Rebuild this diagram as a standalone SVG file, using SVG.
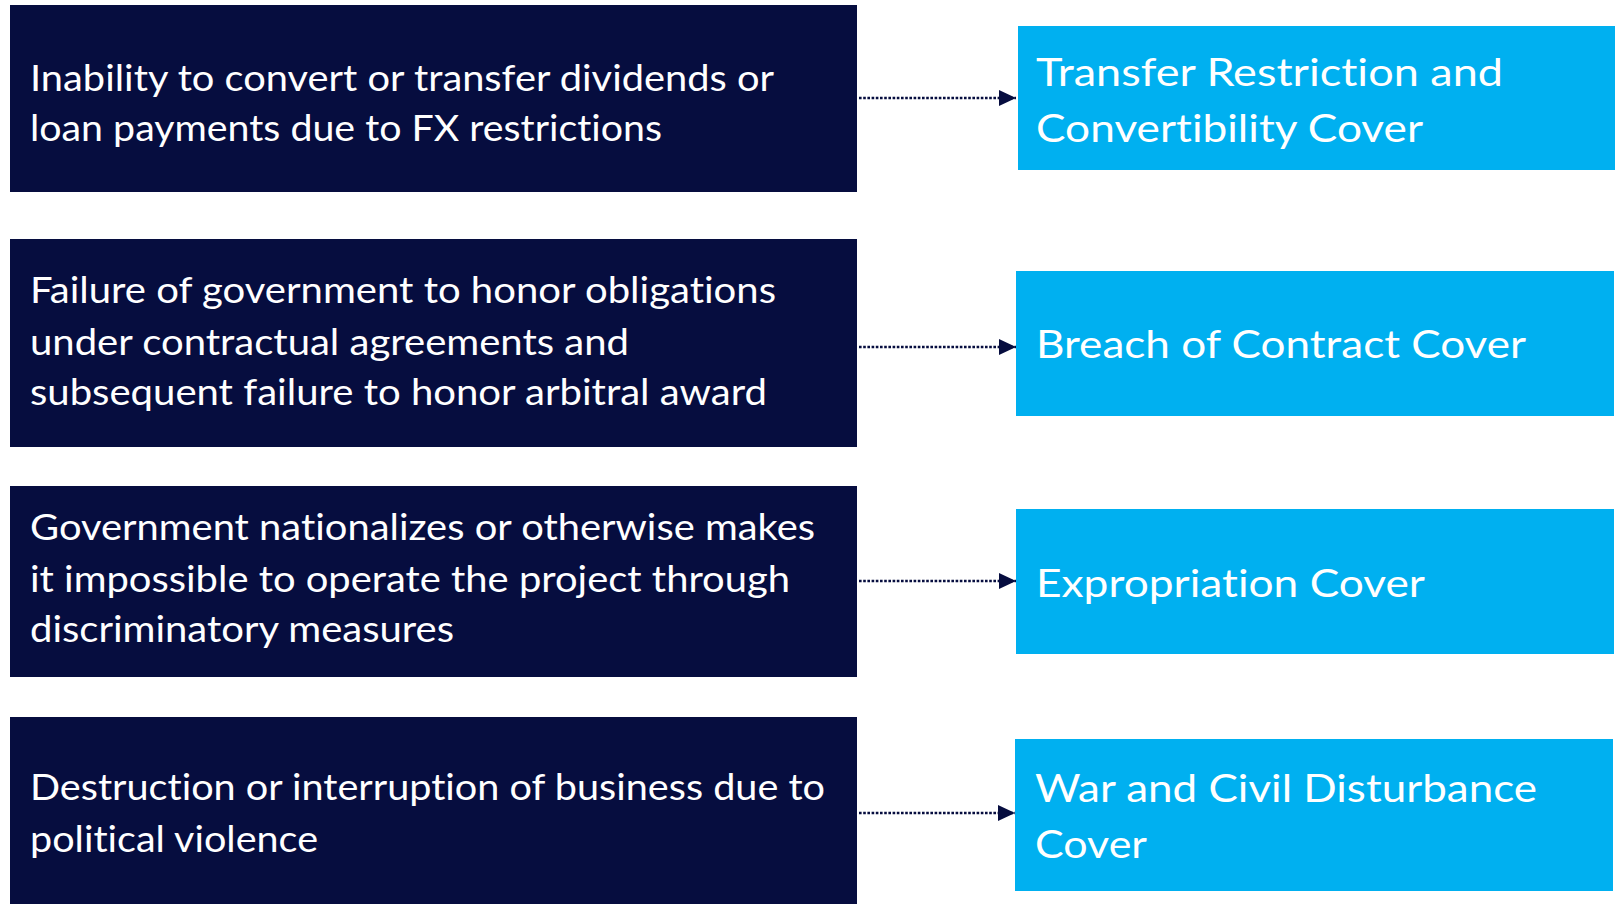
<svg xmlns="http://www.w3.org/2000/svg" width="1615" height="904" viewBox="0 0 1615 904">
  <style>
    .risk { fill: #060D3F; }
    .cover { fill: #00B0F0; }
    .rt { font-family: Lato, "Open Sans", "Liberation Sans", sans-serif; font-size: 36px; fill: #FFFFFF; font-variant-ligatures: none; }
    .ct { font-family: Lato, "Open Sans", "Liberation Sans", sans-serif; font-size: 39.5px; fill: #FFFFFF; font-variant-ligatures: none; }
    .conn { stroke: #060D3F; stroke-width: 2.6; stroke-dasharray: 2.6 1.6; fill: none; }
  </style>
  <defs>
    <marker id="arrow" markerUnits="userSpaceOnUse" markerWidth="17" markerHeight="17" refX="17" refY="8" orient="auto">
      <path d="M0,0 L17,8 L0,16 Z" fill="#060D3F"/>
    </marker>
  </defs>
  <rect width="1615" height="904" fill="#FFFFFF"/>

  <g id="risk-fx">
    <rect class="risk" x="10" y="5" width="847" height="187"/>
    <text class="rt" x="30" y="91" textLength="744" lengthAdjust="spacingAndGlyphs">Inability to convert or transfer dividends or</text>
    <text class="rt" x="30" y="141" textLength="632" lengthAdjust="spacingAndGlyphs">loan payments due to FX restrictions</text>
  </g>
  <g id="risk-contract">
    <rect class="risk" x="10" y="239" width="847" height="208"/>
    <text class="rt" x="30" y="303" textLength="746" lengthAdjust="spacingAndGlyphs">Failure of government to honor obligations</text>
    <text class="rt" x="30" y="355" textLength="599" lengthAdjust="spacingAndGlyphs">under contractual agreements and</text>
    <text class="rt" x="30" y="405" textLength="737" lengthAdjust="spacingAndGlyphs">subsequent failure to honor arbitral award</text>
  </g>
  <g id="risk-nationalize">
    <rect class="risk" x="10" y="486" width="847" height="191"/>
    <text class="rt" x="30" y="540" textLength="785" lengthAdjust="spacingAndGlyphs">Government nationalizes or otherwise makes</text>
    <text class="rt" x="30" y="592" textLength="760" lengthAdjust="spacingAndGlyphs">it impossible to operate the project through</text>
    <text class="rt" x="30" y="642" textLength="424" lengthAdjust="spacingAndGlyphs">discriminatory measures</text>
  </g>
  <g id="risk-violence">
    <rect class="risk" x="10" y="717" width="847" height="187"/>
    <text class="rt" x="30" y="800" textLength="795" lengthAdjust="spacingAndGlyphs">Destruction or interruption of business due to</text>
    <text class="rt" x="30" y="852" textLength="288" lengthAdjust="spacingAndGlyphs">political violence</text>
  </g>

  <g id="cover-transfer">
    <rect class="cover" x="1018" y="26" width="597" height="144"/>
    <text class="ct" x="1036" y="86" textLength="467" lengthAdjust="spacingAndGlyphs">Transfer Restriction and</text>
    <text class="ct" x="1036" y="142" textLength="387" lengthAdjust="spacingAndGlyphs">Convertibility Cover</text>
  </g>
  <g id="cover-breach">
    <rect class="cover" x="1016" y="271" width="598" height="145"/>
    <text class="ct" x="1036" y="358" textLength="490" lengthAdjust="spacingAndGlyphs">Breach of Contract Cover</text>
  </g>
  <g id="cover-expropriation">
    <rect class="cover" x="1016" y="509" width="598" height="145"/>
    <text class="ct" x="1036" y="597" textLength="389" lengthAdjust="spacingAndGlyphs">Expropriation Cover</text>
  </g>
  <g id="cover-war">
    <rect class="cover" x="1015" y="739" width="598" height="152"/>
    <text class="ct" x="1035" y="802" textLength="502" lengthAdjust="spacingAndGlyphs">War and Civil Disturbance</text>
    <text class="ct" x="1035" y="858" textLength="112" lengthAdjust="spacingAndGlyphs">Cover</text>
  </g>

  <g id="connectors">
    <line class="conn" x1="859" y1="98" x2="1016" y2="98" marker-end="url(#arrow)"/>
    <line class="conn" x1="859" y1="347" x2="1016" y2="347" marker-end="url(#arrow)"/>
    <line class="conn" x1="859" y1="581" x2="1016" y2="581" marker-end="url(#arrow)"/>
    <line class="conn" x1="859" y1="813" x2="1015" y2="813" marker-end="url(#arrow)"/>
  </g>
</svg>
